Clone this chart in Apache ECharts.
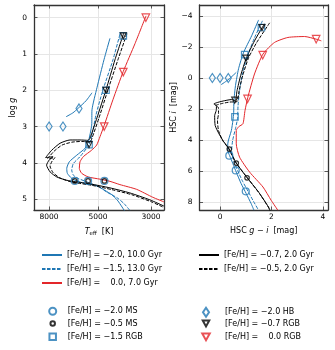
<!DOCTYPE html>
<html>
<head>
<meta charset="utf-8">
<script src="https://cdn.jsdelivr.net/npm/echarts@6/dist/echarts.min.js"></script>
<style>
  html, body { margin: 0; padding: 0; background: #fff; }
  #chart { width: 335px; height: 350px; }
</style>
</head>
<body>
<div id="chart"></div>
<script>
// ---- left panel: [Teff (K), log g] ----
var hrdBlue20 = [[4456,0.57],[4720,1.16],[5049,1.93],[5296,2.54],[5311,2.96],[5487,3.42],[5663,3.6],[6133,3.79],[6585,3.97],[6751,4.155],[6712,4.29],[6435,4.43],[6235,4.48],[5663,4.57],[5063,4.63],[4675,4.76],[4371,4.88],[4127,5.05],[3859,5.34]];
var hrdBlue20HB = [[6795,2.73],[6355,2.62],[6059,2.5],[5609,2.29],[5296,2.07]];
var hrdBlue15 = [[4049,0.46],[4329,1.16],[4766,1.99],[5098,2.68],[5296,3.23],[5450,3.5],[5941,3.83],[6337,4.02],[6435,4.2],[6337,4.34],[6040,4.43],[5398,4.56],[4905,4.68],[4588,4.81],[4167,4.96],[3896,5.12],[3678,5.31]];
var hrdRed00 = [[3150,-0.05],[3500,0.71],[3920,1.48],[4330,2.26],[4710,2.97],[4905,3.28],[5063,3.51],[5311,3.65],[5757,3.83],[5941,3.97],[5981,4.155],[5845,4.29],[5487,4.39],[4905,4.45],[4456,4.51],[4049,4.6],[3450,4.73],[2950,4.95],[2654,5.075]];
var hrdBlack07 = [[3896,0.41],[4247,1.16],[4630,1.99],[5049,2.76],[5398,3.32],[5503,3.38],[5941,3.37],[6541,3.37],[7199,3.46],[7795,3.65],[8274,3.856],[7699,3.83],[8000,3.925],[8195,4.064],[7923,4.25],[7429,4.39],[6751,4.48],[6235,4.52],[5398,4.58],[4456,4.69],[3678,4.83],[3036,5.02],[2654,5.19]];
var hrdBlack05 = [[3785,0.44],[4127,1.16],[4543,1.99],[4951,2.76],[5296,3.32],[5398,3.43],[5829,3.41],[6417,3.43],[7063,3.51],[7626,3.68],[8116,3.884],[7553,3.856],[7773,3.953],[7923,4.09],[7699,4.27],[7233,4.41],[6605,4.51],[6059,4.56],[5296,4.62],[4371,4.74],[3608,4.88],[2978,5.08],[2654,5.23]];

var hrdMS20 = [[6250,4.5],[5500,4.5],[4700,4.5]];
var hrdMS05 = [[6250,4.5],[5500,4.5],[4700,4.5]];
var hrdRGB15 = [[5450,3.5],[4630,2.0],[3920,0.5]];
var hrdRGB07 = [[5450,3.5],[4630,2.0],[3920,0.5]];
var hrdRGB00 = [[4710,3.0],[3920,1.5],[3155,0.0]];
var hrdHB20 = [[8000,3.0],[7000,3.0],[6000,2.5]];

// ---- right panel: [HSC g-i, HSC i] ----
var cmdBlue20 = [[1.5,-3.74],[1.23,-2.72],[0.91,-1.62],[0.72,-0.6],[0.6,0.49],[0.54,1.46],[0.53,2.23],[0.5,2.74],[0.44,3.38],[0.3,4.24],[0.3,4.67],[0.37,4.99],[0.5,5.52],[0.63,6.06],[0.82,6.8],[1.02,7.45],[1.21,8.09],[1.32,8.52]];
var cmdBlue20HB = [[0.04,0.43],[0.21,0.24],[0.41,-0.02],[0.63,-0.36]];
var cmdBlue15 = [[1.65,-3.68],[1.34,-2.59],[1.07,-1.43],[0.88,-0.34],[0.76,0.82],[0.7,1.78],[0.68,2.61],[0.6,3.25],[0.49,4.02],[0.45,4.67],[0.53,5.31],[0.68,5.95],[0.88,6.66],[1.11,7.36],[1.3,7.94],[1.5,8.52]];
var cmdRed00 = [[3.94,-2.39],[3.74,-2.5],[3.29,-2.67],[2.64,-2.61],[2.12,-2.29],[1.67,-1.54],[1.34,-0.26],[1.08,1.25],[0.97,2.1],[0.89,2.95],[0.73,3.13],[0.63,3.38],[0.63,4.24],[0.76,5.1],[1.15,6.06],[1.67,7.02],[1.99,7.88],[2.25,8.52]];
var cmdBlack07 = [[1.73,-3.49],[1.64,-3.25],[1.34,-2.39],[1.02,-1.28],[0.8,-0.15],[0.66,0.82],[0.59,1.46],[0.44,1.39],[0.18,1.46],[-0.09,1.57],[-0.24,1.67],[-0.14,1.78],[-0.15,2.1],[-0.21,2.42],[-0.19,3.06],[-0.04,3.6],[0.14,4.1],[0.33,4.5],[0.6,5.4],[1.02,6.35],[1.5,7.35],[1.88,8.3],[1.95,8.6]];
var cmdBlack05 = [[1.93,-3.55],[1.42,-2.27],[1.11,-1.3],[0.88,-0.15],[0.74,0.82],[0.66,1.52],[0.37,1.55],[0.06,1.65],[-0.18,1.78],[-0.06,1.91],[-0.06,2.29],[-0.1,2.74],[-0.06,3.38],[0.1,4.02],[0.33,4.54],[0.63,5.48],[1.06,6.42],[1.54,7.45],[1.96,8.52]];

var cmdMS20 = [[0.36,5.0],[0.61,5.95],[1.0,7.3]];
var cmdMS05 = [[0.36,4.58],[0.63,5.48],[1.05,6.43]];
var cmdRGB15 = [[0.58,2.5],[0.96,-1.5],[1.61,-3.25]];
var cmdRGB07 = [[0.57,1.43],[1.01,-1.28],[1.63,-3.25]];
var cmdRGB00 = [[1.07,1.35],[1.66,-1.47],[3.74,-2.5]];
var cmdHB20 = [[-0.3,0],[0.0,0],[0.32,0]];

// ticks
var teffTicks = [3000, 5000, 8000];
var teffMinor = [4000, 6000, 7000, 9000];
var loggTicks = [0, 1, 2, 3, 4, 5];
var loggMinor = [0.5, 1.5, 2.5, 3.5, 4.5];
var colorTicks = [0, 2, 4];
var colorMinor = [-0.5, 0.5, 1, 1.5, 2.5, 3, 3.5];
var magTicks = [-4, -2, 0, 2, 4, 6, 8];
var magMinor = [-4.5, -3.5, -3, -2.5, -1.5, -1, -0.5, 0.5, 1, 1.5, 2.5, 3, 3.5, 4.5, 5, 5.5, 6.5, 7, 7.5];

var S1 = '[Fe/H] = \u22122.0, 10.0 Gyr';
var S2 = '[Fe/H] = \u22121.5, 13.0 Gyr';
var S3 = '[Fe/H] =    0.0, 7.0 Gyr';
var S4 = '[Fe/H] = \u22120.7, 2.0 Gyr';
var S5 = '[Fe/H] = \u22120.5, 2.0 Gyr';
var M1 = '[Fe/H] = \u22122.0 MS';
var M2 = '[Fe/H] = \u22120.5 MS';
var M3 = '[Fe/H] = \u22121.5 RGB';
var M4 = '[Fe/H] = \u22122.0 HB';
var M5 = '[Fe/H] = \u22120.7 RGB';
var M6 = '[Fe/H] =    0.0 RGB';

var BLUE = '#1f77b4', RED = '#e3262a', BLACK = '#000';
var FONT = 'DejaVu Sans';
var DOWN_TRI = 'path://M0,0L20,0L10,18Z';
var frame = { onZero: false, lineStyle: { color: '#333', width: 1.3 } };
var tickStyle = { color: '#333', width: 0.8 };
var rich = {
  it: { fontStyle: 'italic', fontFamily: FONT, fontSize: 8 },
  sub: { fontFamily: FONT, fontSize: 5.5, verticalAlign: 'bottom', padding: [4, 0, 0, 0] }
};

function minus(v) {
  v = Math.round(v * 100) / 100;
  return v < 0 ? '\u2212' + Math.abs(v) : String(v);
}

function axisPair(dim, grid, base, major, minor, fmt, name, nameGap) {
  var main = Object.assign({ gridIndex: grid }, base, {
    position: dim === 'x' ? 'bottom' : 'left',
    axisLine: frame,
    axisTick: { inside: true, length: 3.5, customValues: major, lineStyle: tickStyle },
    axisLabel: { customValues: major, formatter: fmt, fontFamily: FONT, fontSize: 7.5, color: '#000', margin: dim === 'x' ? 3 : 7 },
    splitLine: { show: true, customValues: major, lineStyle: { color: '#c4c4c4', width: 0.8 } },
    name: name, nameLocation: 'middle', nameGap: nameGap,
    nameTextStyle: { fontFamily: FONT, fontSize: 8, color: '#000', rich: rich }
  });
  var twin = Object.assign({ gridIndex: grid }, base, {
    position: dim === 'x' ? 'top' : 'right',
    axisLine: frame,
    axisTick: { inside: true, length: 3.5, customValues: major, lineStyle: tickStyle },
    axisLabel: { show: false },
    splitLine: { show: true, customValues: minor, lineStyle: { color: '#ebebeb', width: 0.8 } }
  });
  return [main, twin];
}

var xAxes = axisPair('x', 0, { type: 'log', inverse: true, min: 2650, max: 9250 }, teffTicks, teffMinor,
  function (v) { return String(Math.round(v)); }, '{it|T}{sub|eff}  [K]', 17)
  .concat(axisPair('x', 1, { type: 'value', min: -0.8, max: 4.2 }, colorTicks, colorMinor, minus,
  'HSC {it|g} \u2212 {it|i}  [mag]', 17));
var yAxes = axisPair('y', 0, { type: 'value', inverse: true, min: -0.35, max: 5.3 }, loggTicks, loggMinor, minus,
  'log {it|g}', 17)
  .concat(axisPair('y', 1, { type: 'value', inverse: true, min: -4.7, max: 8.5 }, magTicks, magMinor, minus,
  'HSC {it|i}  [mag]', 17));

function line(name, data, panel, color, dashed) {
  return {
    name: name, type: 'line', xAxisIndex: panel * 2, yAxisIndex: panel * 2, data: data,
    symbol: 'none', smooth: 0.2, silent: true, z: 2,
    lineStyle: { color: color, width: 1, type: dashed ? [3.5, 1.5] : 'solid' },
    itemStyle: { color: color }
  };
}
function dots(name, data, panel, symbol, size, color, rotate) {
  return {
    name: name, type: 'scatter', xAxisIndex: panel * 2, yAxisIndex: panel * 2, data: data,
    symbol: symbol, symbolSize: size, symbolRotate: rotate || 0, silent: true, z: 5,
    itemStyle: { color: 'rgba(255,255,255,0)', borderColor: color, borderWidth: 1.2 }
  };
}

var series = [
  line(S1, hrdBlue20, 0, BLUE), line(S1, hrdBlue20HB, 0, BLUE), line(S2, hrdBlue15, 0, BLUE, true),
  line(S3, hrdRed00, 0, RED), line(S4, hrdBlack07, 0, BLACK), line(S5, hrdBlack05, 0, BLACK, true),
  line(S1, cmdBlue20, 1, BLUE), line(S1, cmdBlue20HB, 1, BLUE), line(S2, cmdBlue15, 1, BLUE, true),
  line(S3, cmdRed00, 1, RED), line(S4, cmdBlack07, 1, BLACK), line(S5, cmdBlack05, 1, BLACK, true),
  dots(M1, hrdMS20, 0, 'circle', 7, BLUE), dots(M2, hrdMS05, 0, 'circle', 4.5, BLACK),
  dots(M3, hrdRGB15, 0, 'rect', 6.5, BLUE), dots(M4, hrdHB20, 0, 'diamond', [6, 9], BLUE),
  dots(M5, hrdRGB07, 0, 'triangle', 6, BLACK, 180), dots(M6, hrdRGB00, 0, 'triangle', 7.5, RED, 180),
  dots(M1, cmdMS20, 1, 'circle', 7, BLUE), dots(M2, cmdMS05, 1, 'circle', 4.5, BLACK),
  dots(M3, cmdRGB15, 1, 'rect', 6.5, BLUE), dots(M4, cmdHB20, 1, 'diamond', [6, 9], BLUE),
  dots(M5, cmdRGB07, 1, 'triangle', 6, BLACK, 180), dots(M6, cmdRGB00, 1, 'triangle', 7.5, RED, 180)
];

var legendText = { fontFamily: FONT, fontSize: 8, color: '#000', lineHeight: 8 };
function lineLegend(names, left) {
  return { data: names, left: left, top: 251, orient: 'vertical', itemWidth: 20, itemHeight: 8, itemGap: 6,
    padding: 0, selectedMode: false, itemStyle: { opacity: 0 }, textStyle: legendText };
}
// one legend per marker so each icon keeps its own size
function markLegend(name, cx, cy, w, h, tx, icon) {
  var left = cx - w / 2;
  var item = icon ? { name: name, icon: icon } : name;
  return { data: [item], left: left, top: cy - 4, orient: 'vertical', itemWidth: w, itemHeight: h,
    padding: 0, selectedMode: false,
    textStyle: Object.assign({ padding: [0, 0, 0, tx - (left + w + 5)] }, legendText) };
}

var chart = echarts.init(document.getElementById('chart'));
chart.setOption({
  animation: false,
  backgroundColor: '#fff',
  grid: [
    { left: 34, top: 5, width: 130, height: 205 },
    { left: 199.5, top: 5, width: 128.5, height: 205 }
  ],
  xAxis: xAxes,
  yAxis: yAxes,
  legend: [
    lineLegend([S1, S2, S3], 41),
    lineLegend([S4, S5], 198),
    markLegend(M1, 51.7, 310.7, 7, 7, 66.7),
    markLegend(M2, 51.7, 323.5, 4.5, 4.5, 66.7),
    markLegend(M3, 51.7, 336.5, 6.5, 6.5, 66.7),
    markLegend(M4, 205, 310.7, 6, 9, 224),
    markLegend(M5, 205, 323.5, 6.5, 6, 224, DOWN_TRI),
    markLegend(M6, 205, 336.5, 7.5, 7, 224, DOWN_TRI)
  ],
  series: series
});
</script>
</body>
</html>
